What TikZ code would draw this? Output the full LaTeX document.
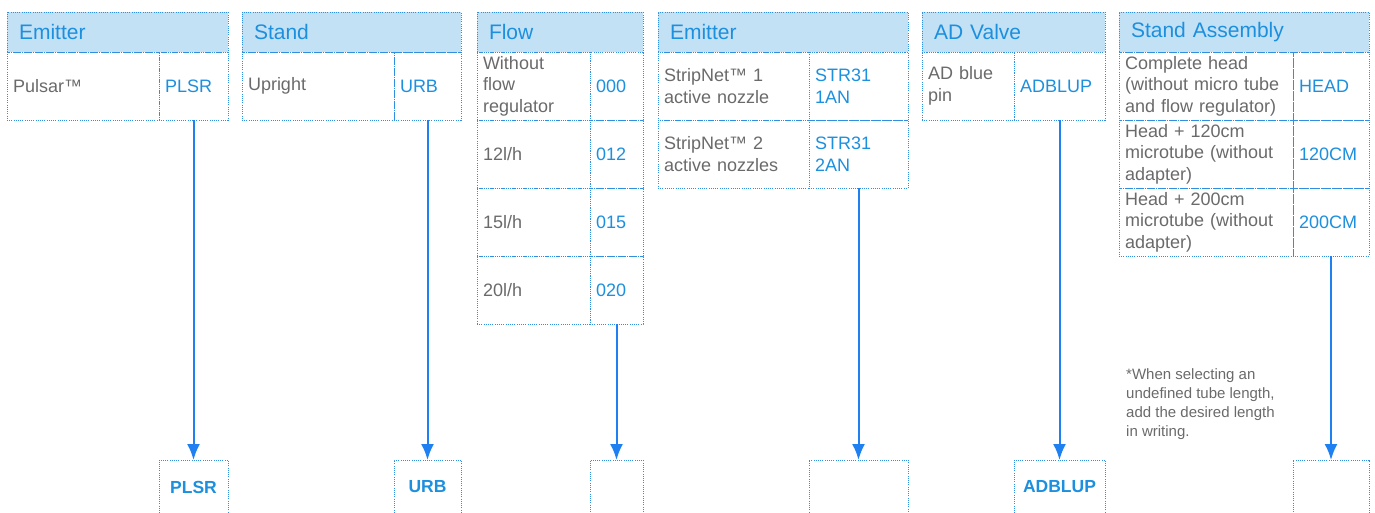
\documentclass[tikz,border=0pt]{standalone}
\usepackage{fontspec}
\setmainfont{Liberation Sans}
\usetikzlibrary{arrows.meta}
\definecolor{headfill}{HTML}{C3E1F5}
\definecolor{rule}{HTML}{2F8FE0}
\definecolor{codeblue}{HTML}{1C8FDE}
\definecolor{arrowblue}{HTML}{1F80F2}
\definecolor{textgrey}{HTML}{6A6A6A}

\begin{document}
\begin{tikzpicture}[x=1pt,y=-1pt,
  cell/.style={draw=rule, line width=1pt, dash pattern=on 1pt off 1.2pt, anchor=north west, outer sep=0pt, inner xsep=6pt, inner ysep=0pt, align=left},
  head/.style={cell, fill=headfill, text=codeblue, minimum height=40pt, inner xsep=12pt, font=\fontsize{21}{25}\selectfont},
  desc/.style={cell, minimum height=68pt, text=textgrey, font=\fontsize{18}{21.5}\selectfont},
  code/.style={cell, minimum height=68pt, text=codeblue, font=\fontsize{18}{21.5}\selectfont},
  result/.style={cell, align=center, minimum height=54pt, text=codeblue, font=\fontsize{17.5}{21}\bfseries\selectfont},
  arrow/.style={draw=arrowblue, line width=2pt, -{Latex[length=16pt,width=13pt]}}
]
\useasboundingbox (0,0) rectangle (1375,512);
\clip (0,0) rectangle (1375,512);

% Emitter
\node[head, text width=197pt] (emitHead) at (7,12) {Emitter};
\node[desc, text width=140pt] (emitPulsar) at (7,52) {Pulsar™};
\node[code, text width=57pt] (emitPulsarCode) at (159,52) {PLSR};

% Stand
\node[head, text width=195pt] (standHead) at (242,12) {Stand};
\node[desc, text width=140pt] (standUpright) at (242,52) {Upright};
\node[code, text width=55pt] (standUprightCode) at (394,52) {URB};

% Flow
\node[head, text width=142pt] (flowHead) at (477,12) {Flow};
\node[desc, text width=101pt] (flowNone) at (477,52) {Without\\flow\\regulator};
\node[code, text width=41pt] (flowNoneCode) at (590,52) {000};
\node[desc, text width=101pt] (flowTwelve) at (477,120) {12l/h};
\node[code, text width=41pt] (flowTwelveCode) at (590,120) {012};
\node[desc, text width=101pt] (flowFifteen) at (477,188) {15l/h};
\node[code, text width=41pt] (flowFifteenCode) at (590,188) {015};
\node[desc, text width=101pt] (flowTwenty) at (477,256) {20l/h};
\node[code, text width=41pt] (flowTwentyCode) at (590,256) {020};

% Emitter (StripNet)
\node[head, text width=226pt] (stripHead) at (658,12) {Emitter};
\node[desc, text width=139pt] (stripOne) at (658,52) {StripNet™ 1\\active nozzle};
\node[code, text width=87pt] (stripOneCode) at (809,52) {STR31\\1AN};
\node[desc, text width=139pt] (stripTwo) at (658,120) {StripNet™ 2\\active nozzles};
\node[code, text width=87pt] (stripTwoCode) at (809,120) {STR31\\2AN};

% AD Valve
\node[head, text width=159pt] (valveHead) at (922,12) {AD Valve};
\node[desc, text width=80pt] (valvePin) at (922,52) {AD blue\\pin};
\node[code, text width=79pt] (valvePinCode) at (1014,52) {ADBLUP};

% Stand Assembly
\node[head, text width=226pt] (assyHead) at (1119,12) {Stand Assembly};
\node[desc, text width=162pt] (assyComplete) at (1119,52) {Complete head\\(without micro tube\\and flow regulator)};
\node[code, text width=64pt] (assyCompleteCode) at (1293,52) {HEAD};
\node[desc, text width=162pt] (assyShort) at (1119,120) {Head + 120cm\\microtube (without\\adapter)};
\node[code, text width=64pt] (assyShortCode) at (1293,120) {120CM};
\node[desc, text width=162pt] (assyLong) at (1119,188) {Head + 200cm\\microtube (without\\adapter)};
\node[code, text width=64pt] (assyLongCode) at (1293,188) {200CM};

\node[anchor=north west, inner sep=0pt, align=left, text=textgrey, font=\fontsize{15}{19}\selectfont] (assyNote) at (1126,368) {*When selecting an\\undefined tube length,\\add the desired length\\in writing.};

% Result code
\node[result, text width=57pt] (resEmit) at (159,460) {PLSR};
\node[result, text width=55pt] (resStand) at (394,460) {URB};
\node[result, text width=41pt] (resFlow) at (590,460) {};
\node[result, text width=87pt] (resStrip) at (809,460) {};
\node[result, text width=79pt] (resValve) at (1014,460) {ADBLUP};
\node[result, text width=64pt] (resAssy) at (1293,460) {};

\draw[arrow] (emitPulsarCode.south) -- (resEmit.north);
\draw[arrow] (standUprightCode.south) -- (resStand.north);
\draw[arrow] (flowTwentyCode.south) -- (resFlow.north);
\draw[arrow] (stripTwoCode.south) -- (resStrip.north);
\draw[arrow] (valvePinCode.south) -- (resValve.north);
\draw[arrow] (assyLongCode.south) -- (resAssy.north);
\end{tikzpicture}
\end{document}
